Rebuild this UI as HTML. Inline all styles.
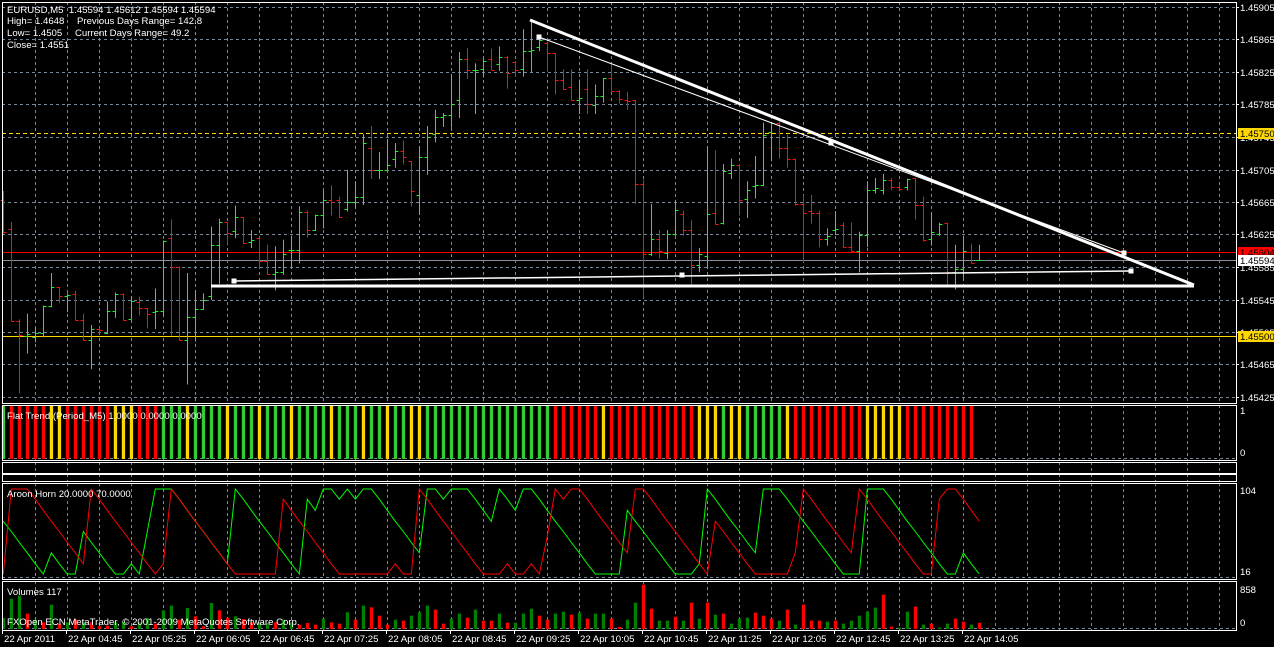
<!DOCTYPE html>
<html><head><meta charset="utf-8"><style>
html,body{margin:0;padding:0;background:#000;}
svg{display:block;font-family:"Liberation Sans",sans-serif;}
</style></head><body>
<svg id="chart" width="1274" height="647" viewBox="0 0 1274 647" xmlns="http://www.w3.org/2000/svg">
<rect x="0" y="0" width="1274" height="647" fill="#000"/>
<g id="grid"></g>
<g id="hlines"></g>
<g id="bars"></g>
<g id="trend"></g>
<g id="flat"></g>
<g id="aroon"></g>
<g id="vol"></g>
<g id="frames"></g>
<g id="axis" font-size="9.6" fill="#fff"></g>
<g font-size="9.6" fill="#fff" style="white-space:pre">
<text x="7" y="13" xml:space="preserve">EURUSD,M5  1.45594 1.45612 1.45594 1.45594</text>
<text x="7" y="24">High= 1.4648</text>
<text x="77" y="24">Previous Days Range= 142.8</text>
<text x="7" y="36">Low= 1.4505</text>
<text x="75" y="36">Current Days Range= 49.2</text>
<text x="7" y="48">Close= 1.4551</text>
<text x="7" y="419">Flat Trend (Period_M5) 1.0000 0.0000 0.0000</text>
<text x="7" y="497">Aroon Horn 20.0000 70.0000</text>
<text x="7" y="595">Volumes 117</text>
<text x="7" y="625">FXOpen ECN MetaTrader, © 2001-2009 MetaQuotes Software Corp.</text>
</g>
</svg>
<script>
const opens=[1.45667,1.45632,1.45519,1.45500,1.45499,1.45504,1.45537,1.45560,1.45549,1.45552,1.45520,1.45495,1.45509,1.45504,1.45531,1.45552,1.45521,1.45542,1.45534,1.45530,1.45531,1.45621,1.45585,1.45495,1.45523,1.45533,1.45549,1.45612,1.45640,1.45629,1.45646,1.45616,1.45621,1.45593,1.45576,1.45579,1.45606,1.45606,1.45653,1.45630,1.45649,1.45667,1.45667,1.45656,1.45665,1.45671,1.45731,1.45704,1.45705,1.45718,1.45728,1.45715,1.45673,1.45720,1.45749,1.45770,1.45772,1.45790,1.45841,1.45827,1.45829,1.45841,1.45835,1.45844,1.45837,1.45829,1.45851,1.45856,1.45861,1.45848,1.45815,1.45806,1.45791,1.45804,1.45784,1.45796,1.45817,1.45802,1.45791,1.45790,1.45687,1.45601,1.45619,1.45602,1.45625,1.45650,1.45631,1.45588,1.45599,1.45651,1.45639,1.45701,1.45710,1.45669,1.45685,1.45686,1.45751,1.45762,1.45731,1.45718,1.45662,1.45654,1.45651,1.45620,1.45630,1.45637,1.45610,1.45605,1.45624,1.45680,1.45680,1.45692,1.45683,1.45683,1.45694,1.45661,1.45619,1.45626,1.45639,1.45579,1.45583,1.45603,1.45594];
const highs=[1.45678,1.45640,1.45520,1.45527,1.45509,1.45537,1.45577,1.45560,1.45552,1.45555,1.45527,1.45513,1.45510,1.45542,1.45553,1.45552,1.45548,1.45548,1.45534,1.45558,1.45617,1.45643,1.45585,1.45577,1.45556,1.45552,1.45634,1.45644,1.45640,1.45660,1.45646,1.45630,1.45621,1.45612,1.45610,1.45618,1.45623,1.45659,1.45654,1.45649,1.45678,1.45685,1.45671,1.45704,1.45690,1.45748,1.45758,1.45726,1.45742,1.45737,1.45740,1.45715,1.45733,1.45758,1.45778,1.45774,1.45822,1.45849,1.45854,1.45835,1.45843,1.45853,1.45856,1.45844,1.45838,1.45877,1.45888,1.45868,1.45862,1.45848,1.45828,1.45828,1.45815,1.45828,1.45809,1.45817,1.45835,1.45802,1.45800,1.45790,1.45692,1.45662,1.45630,1.45630,1.45667,1.45654,1.45642,1.45608,1.45733,1.45728,1.45711,1.45718,1.45711,1.45690,1.45721,1.45762,1.45763,1.45763,1.45747,1.45718,1.45673,1.45673,1.45654,1.45632,1.45653,1.45639,1.45639,1.45628,1.45690,1.45694,1.45699,1.45694,1.45688,1.45693,1.45694,1.45671,1.45652,1.45639,1.45639,1.45612,1.45623,1.45613,1.45612];
const lows=[1.45627,1.45519,1.45430,1.45479,1.45493,1.45499,1.45536,1.45541,1.45530,1.45520,1.45495,1.45460,1.45504,1.45503,1.45523,1.45520,1.45521,1.45526,1.45510,1.45509,1.45524,1.45501,1.45495,1.45441,1.45494,1.45533,1.45545,1.45565,1.45614,1.45621,1.45614,1.45609,1.45584,1.45576,1.45557,1.45576,1.45583,1.45590,1.45622,1.45630,1.45633,1.45649,1.45646,1.45654,1.45657,1.45662,1.45694,1.45694,1.45704,1.45708,1.45712,1.45660,1.45650,1.45699,1.45739,1.45758,1.45757,1.45769,1.45817,1.45774,1.45819,1.45828,1.45827,1.45805,1.45820,1.45820,1.45825,1.45851,1.45826,1.45798,1.45804,1.45791,1.45774,1.45774,1.45774,1.45788,1.45802,1.45787,1.45779,1.45663,1.45548,1.45599,1.45596,1.45595,1.45624,1.45624,1.45562,1.45579,1.45583,1.45638,1.45638,1.45694,1.45649,1.45646,1.45670,1.45685,1.45716,1.45719,1.45708,1.45661,1.45591,1.45639,1.45610,1.45612,1.45625,1.45610,1.45605,1.45579,1.45610,1.45676,1.45675,1.45680,1.45680,1.45680,1.45644,1.45617,1.45612,1.45624,1.45562,1.45558,1.45569,1.45590,1.45594];
const closes=[1.45628,1.45519,1.45501,1.45503,1.45504,1.45537,1.45560,1.45549,1.45551,1.45520,1.45495,1.45509,1.45507,1.45531,1.45552,1.45520,1.45543,1.45534,1.45527,1.45531,1.45617,1.45585,1.45495,1.45523,1.45533,1.45545,1.45612,1.45640,1.45627,1.45646,1.45614,1.45618,1.45593,1.45576,1.45579,1.45601,1.45606,1.45653,1.45630,1.45649,1.45667,1.45665,1.45647,1.45665,1.45671,1.45737,1.45705,1.45705,1.45711,1.45728,1.45721,1.45679,1.45720,1.45745,1.45770,1.45772,1.45785,1.45841,1.45828,1.45828,1.45838,1.45828,1.45843,1.45824,1.45828,1.45851,1.45852,1.45864,1.45848,1.45815,1.45804,1.45791,1.45793,1.45785,1.45796,1.45817,1.45802,1.45792,1.45789,1.45687,1.45601,1.45619,1.45605,1.45626,1.45655,1.45630,1.45588,1.45601,1.45650,1.45638,1.45703,1.45711,1.45667,1.45680,1.45686,1.45747,1.45762,1.45731,1.45718,1.45662,1.45651,1.45651,1.45619,1.45623,1.45632,1.45610,1.45605,1.45624,1.45680,1.45682,1.45692,1.45683,1.45681,1.45693,1.45661,1.45618,1.45628,1.45638,1.45579,1.45583,1.45605,1.45590,1.45594];
const flatColors="grrrrryyrrrrrryyyrrrgggyggggygggygggyggggygggyggyggyyggggggggggggggggrrrrrryrrrrrrrrrrryyygyygggggyrrrrrrrrryyyyyrrrrrrrrr".split("");
const aroonUp=[62,50,37,25,12,0,25,12,0,0,50,37,25,12,0,0,12,0,50,100,100,100,88,75,62,50,37,25,12,100,88,75,62,50,37,25,12,0,88,75,100,100,88,100,88,100,100,88,75,62,50,37,25,100,100,88,100,100,100,88,75,62,100,88,75,100,100,88,75,62,50,37,25,12,0,0,0,0,75,62,50,37,25,12,0,0,0,12,100,88,75,62,50,37,25,100,100,100,88,75,62,50,37,25,12,0,0,0,100,100,100,88,75,62,50,37,25,12,0,0,25,12,0];
const aroonDown=[0,100,100,100,88,75,62,50,37,25,12,100,88,75,62,50,37,25,12,0,12,100,88,75,62,50,37,25,12,0,0,0,0,0,0,88,75,62,50,37,25,12,0,0,0,0,0,0,0,12,0,0,100,88,75,62,50,37,25,12,0,0,0,12,0,0,12,0,44,100,88,100,100,88,75,62,50,37,25,100,100,88,75,62,50,37,25,12,0,62,50,37,25,12,0,0,0,0,0,25,100,88,75,62,50,37,25,100,88,75,62,50,37,25,12,0,0,88,100,100,88,75,62];
const volumes=[210,579,636,293,178,127,464,102,127,178,127,127,51,64,127,146,51,127,210,102,356,445,178,401,242,51,496,356,210,242,191,127,127,114,127,178,127,83,114,83,197,127,102,318,178,445,413,254,83,178,159,254,318,445,369,102,197,293,216,369,159,159,293,121,121,293,388,254,178,293,331,273,312,197,293,293,197,38,178,502,846,388,159,159,235,159,502,197,502,273,293,102,197,216,312,254,197,159,369,83,464,159,159,140,159,102,159,254,331,407,655,45,25,331,426,83,102,25,102,197,140,83,117];
const volColors="gggrgrgrgrgrrrggrggrggrgrrgrrgrrggrggrrrgrrgrgrrrgrgggrrggrgrrgrgggrrggrgrggrrggrrggrgrgrgrgggrrrgrgrrrgrgggggrrggrgrggrrg".split("");
const priceTicks=[1.45905,1.45865,1.45825,1.45785,1.45745,1.45705,1.45665,1.45625,1.45585,1.45545,1.45505,1.45465,1.45425];
const timeLabels=["22 Apr 2011","22 Apr 04:45","22 Apr 05:25","22 Apr 06:05","22 Apr 06:45","22 Apr 07:25","22 Apr 08:05","22 Apr 08:45","22 Apr 09:25","22 Apr 10:05","22 Apr 10:45","22 Apr 11:25","22 Apr 12:05","22 Apr 12:45","22 Apr 13:25","22 Apr 14:05"];
const levels=[1.45750,1.45604,1.45594,1.45500];

const NS="http://www.w3.org/2000/svg";
function mk(parent,tag,attrs){const e=document.createElementNS(NS,tag);for(const k in attrs)e.setAttribute(k,attrs[k]);parent.appendChild(e);return e;}
const xB=i=>3.3+8*i;
const yP=p=>7+(1.45905-p)*81250;
const yA=v=>574-v*0.85;
const yV=v=>629-v*45/858;
const L=2,R=1236;
const G=id=>document.getElementById(id);

const grid=G('grid');
const panels=[[2,403],[405,460],[462,473],[474,481],[483,579],[581,630]];
for(let x=35;x<R;x+=32){
  panels.forEach(p=>{
    const l=mk(grid,'line',{x1:x+0.5,x2:x+0.5,y1:p[0],y2:p[1],stroke:'#778899','stroke-dasharray':'3,3'});
    
    
  });
}
priceTicks.forEach(p=>{
  const l=mk(grid,'line',{x1:L,x2:R,y1:Math.round(yP(p))+0.5,y2:Math.round(yP(p))+0.5,stroke:'#778899','stroke-dasharray':'3,3'});
  
  
});
[[460],[579],[630]].forEach(r=>{
  const l=mk(grid,'line',{x1:L,x2:R,y1:r[0]-1.5,y2:r[0]-1.5,stroke:'#778899','stroke-dasharray':'3,3'});
  
  
});

const hl=G('hlines');
const lvStyle=[{s:'#FFD700',d:'4,3'},{s:'#ff0000',d:''},{s:'#8a9099',d:''},{s:'#FFD700',d:''}];
levels.forEach((p,i)=>{
  const y=Math.round(yP(p))+0.5;
  const a={x1:L,x2:R,y1:y,y2:y,stroke:lvStyle[i].s};
  if(lvStyle[i].d)a['stroke-dasharray']=lvStyle[i].d;
  const l=mk(hl,'line',a);
  
  
});

const bars=G('bars');
opens.forEach((o,i)=>{
  const c=closes[i];const col=c>=o?'#22ee22':'#ff1010';
  const x=Math.round(xB(i))+0.5;
  const g=mk(bars,'g',{stroke:col,'stroke-width':1});
  
  
  mk(g,'line',{x1:x,x2:x,y1:yP(highs[i])-0.5,y2:yP(lows[i])+0.5});
  const yo=Math.round(yP(o))+0.5,yc=Math.round(yP(c))+0.5;
  mk(g,'line',{x1:x-3,x2:x,y1:yo,y2:yo});
  mk(g,'line',{x1:x,x2:x+3,y1:yc,y2:yc});
});

const tr=G('trend');
[[530,20,1194,285,3],[539,37,1124,253,1],[211,286,1194,286,3],[234,281,1130,271,1.5]].forEach(t=>{
  const l=mk(tr,'line',{x1:t[0],y1:t[1],x2:t[2],y2:t[3],stroke:'#fff','stroke-width':t[4]});
  
  
});
[[539,37],[831,143],[1124,253],[234,281],[682,275],[1131,271]].forEach(h=>{
  const r=mk(tr,'rect',{x:h[0]-2.5,y:h[1]-2.5,width:5,height:5,fill:'#fff'});
  
  
});

const fl=G('flat');
const fc={r:'#ff0000',y:'#FFD700',g:'#32CD32'};
flatColors.forEach((c,i)=>{
  const r=mk(fl,'rect',{x:xB(i)-1.5,y:406,width:3.3,height:53,fill:fc[c]});
  
  
});

const ar=G('aroon');
const pu=aroonUp.map((v,i)=>xB(i).toFixed(1)+','+yA(v).toFixed(1)).join(' ');
const pd=aroonDown.map((v,i)=>xB(i).toFixed(1)+','+yA(v).toFixed(1)).join(' ');
const lu=mk(ar,'polyline',{points:pu,fill:'none',stroke:'#00ff00','stroke-width':1});


const ld=mk(ar,'polyline',{points:pd,fill:'none',stroke:'#ff0000','stroke-width':1});



const vg=G('vol');
volumes.forEach((v,i)=>{
  const y=yV(v);
  const r=mk(vg,'rect',{x:xB(i)-1.5,y:y,width:3.3,height:629-y,fill:volColors[i]==='g'?'#008000':'#ff0000'});
  
  
});

const fr=G('frames');
panels.forEach(p=>{
  const r=mk(fr,'rect',{x:L+0.5,y:p[0]+0.5,width:R-L,height:p[1]-p[0],fill:'none',stroke:'#fff'});
  
  
});

const ax=G('axis');
priceTicks.forEach(p=>{
  const y=Math.round(yP(p));
  mk(ax,'line',{x1:R,x2:R+3,y1:y+0.5,y2:y+0.5,stroke:'#fff'});
  const t=mk(ax,'text',{x:1240,y:y+4});
  t.textContent=p.toFixed(5);
  
  
});
const boxes=[{p:1.45750,bg:'#FFD700',fg:'#000'},{p:1.45604,bg:'#ff0000',fg:'#000'},{p:1.45594,bg:'#fff',fg:'#000'},{p:1.45500,bg:'#FFD700',fg:'#000'}];
boxes.forEach(b=>{
  const y=Math.round(yP(b.p));
  const r=mk(ax,'rect',{x:1238,y:y-5,width:36,height:11,fill:b.bg});
  
  
  const t=mk(ax,'text',{x:1240,y:y+4,fill:b.fg});
  t.textContent=b.p.toFixed(5);
  
  
});
[["1",414],["0",456],["104",494],["16",575],["858",593],["0",626]].forEach(s=>{
  const t=mk(ax,'text',{x:1240,y:s[1]});
  t.textContent=s[0];
  
  
});
timeLabels.forEach((s,k)=>{
  const x=2+64*k;
  mk(ax,'line',{x1:x+0.5,x2:x+0.5,y1:630,y2:634,stroke:'#fff'});
  const t=mk(ax,'text',{x:x+2,y:642});
  t.textContent=s;
  
  
});
</script>
</body></html>
